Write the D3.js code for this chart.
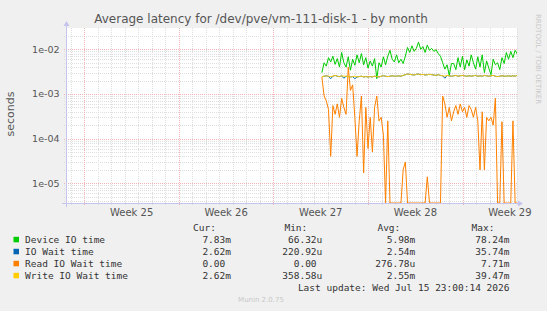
<!DOCTYPE html>
<html>
<head>
<meta charset="utf-8">
<script src="https://cdn.jsdelivr.net/npm/d3@7"></script>
<style>
  body { margin: 0; background: #f0f0f0; }
  svg { display: block; }
  text { font-family: "DejaVu Sans", sans-serif; }
  .mono { font-family: "DejaVu Sans Mono", monospace; }
</style>
</head>
<body>
<svg id="chart"></svg>
<script>
var svgWidth = 547;
var svgHeight = 311;
var plot = { left: 66, right: 517, top: 28, bottom: 203 };

// axis data
var weekStarts = ["2026-06-15", "2026-06-22", "2026-06-29", "2026-07-06", "2026-07-13"];
var weekLabels = ["Week 25", "Week 26", "Week 27", "Week 28", "Week 29"];
var yTicks = [1e-2, 1e-3, 1e-4, 1e-5];
var yTickLabels = ["1e-02", "1e-03", "1e-04", "1e-05"];

// samples (milliseconds), one every 3.9 hours from sampleStart
var sampleStart = "2026-07-02T14:00:00Z";
var sampleStepHours = 3.9;

var deviceIO = [
  3.0, 5.0, 4.2, 6.5, 5.2, 7.0, 4.6, 6.2, 4.0, 8.5,
  5.0, 4.0, 6.8, 3.4, 6.0, 4.4, 7.5, 5.0, 8.0, 4.5,
  6.5, 3.8, 5.5, 4.2, 6.2, 2.2, 5.0, 4.0, 6.8, 4.5,
  7.0, 9.5, 6.0, 5.2, 7.5, 5.0, 6.0, 4.8, 7.0, 11.0,
  8.5, 12.0, 9.0, 10.5, 14.5, 10.0, 11.5, 8.5, 12.5, 9.5,
  10.5, 9.0, 9.8, 8.0, 7.0, 5.0, 3.6, 4.5, 2.6, 4.8,
  4.8, 3.5, 6.5, 4.0, 7.0, 3.5, 5.8, 4.2, 7.5, 5.0,
  3.6, 6.8, 4.0, 7.5, 3.0, 5.5, 3.8, 2.7, 6.0, 4.5,
  5.0, 3.5, 6.5, 4.8, 8.5, 6.0, 9.0, 6.5, 9.5, 7.8
];
var ioWait = [
  2.45, 2.5, 2.55, 2.5, 2.2, 2.5, 2.6, 2.5, 2.45, 2.55,
  2.25, 2.5, 2.45, 2.4, 2.45, 2.2, 2.4, 2.45, 2.5, 2.4,
  2.45, 2.4, 2.45, 2.4, 2.5, 2.45, 2.4, 2.5, 2.55, 2.5,
  2.45, 2.5, 2.55, 2.5, 2.5, 2.55, 2.5, 2.6, 2.7, 2.8,
  2.75, 2.7, 2.65, 2.75, 2.8, 2.7, 2.75, 2.65, 2.7, 2.75,
  2.7, 2.65, 2.6, 2.7, 2.6, 2.55, 2.25, 2.6, 2.55, 2.5,
  2.55, 2.6, 2.5, 2.55, 2.6, 2.55, 2.5, 2.55, 2.5, 2.55,
  2.6, 2.5, 2.55, 2.5, 2.6, 2.55, 2.5, 2.55, 2.6, 2.5,
  2.45, 2.5, 2.55, 2.5, 2.5, 2.55, 2.5, 2.55, 2.5, 2.62
];
var readIO = [
  2.4, 0.9, 0.7, 0.45, 0.04, 0.55, 0.35, 0.6, 0.3, 0.8,
  0.5, 0.35, 4.0, 1.2, 1.6, 0.3, 0.04, 0.25, 0.9, 0.017,
  0.5, 0.06, 0.3, 0.05, 0.5, 0.9, 0.25, 0.3, 0.12, 0,
  0.25, 0, 0, 0, 0, 0, 0, 0.02, 0.03, 0,
  0, 0, 0, 0, 0, 0, 0, 0, 0.014, 0,
  0, 0, 0, 0, 0, 0.9, 0.6, 0.3, 0.5, 0.25,
  0.4, 0.55, 0.35, 0.6, 0.4, 0.5, 0.3, 0.55, 0.45, 0.3,
  0.5, 0.25, 0.02, 0.4, 0.02, 0.3, 0.25, 0.3, 0.2, 0.8,
  0, 0, 0.24, 0, 0, 0, 0, 0.25, 0, 0
];
var writeIO = [
  2.45, 2.5, 2.55, 2.5, 2.45, 2.5, 2.6, 2.5, 2.45, 2.55,
  2.5, 2.5, 2.45, 2.4, 2.45, 2.5, 2.4, 2.45, 2.5, 2.4,
  2.45, 2.4, 2.45, 2.4, 2.5, 2.45, 2.4, 2.5, 2.55, 2.5,
  2.45, 2.5, 2.55, 2.5, 2.5, 2.55, 2.5, 2.6, 2.7, 2.8,
  2.75, 2.7, 2.65, 2.75, 2.8, 2.7, 2.75, 2.65, 2.7, 2.75,
  2.7, 2.65, 2.6, 2.7, 2.6, 2.55, 2.5, 2.6, 2.55, 2.5,
  2.55, 2.6, 2.5, 2.55, 2.6, 2.55, 2.5, 2.55, 2.5, 2.55,
  2.6, 2.5, 2.55, 2.5, 2.6, 2.55, 2.5, 2.55, 2.6, 2.5,
  2.45, 2.5, 2.55, 2.5, 2.5, 2.55, 2.5, 2.55, 2.5, 2.62
];

// legend
var seriesNames = ["Device IO time", "IO Wait time", "Read IO Wait time", "Write IO Wait time"];
var curValues = ["7.83m", "2.62m", "0.00", "2.62m"];
var minValues = ["66.32u", "220.92u", "0.00", "358.58u"];
var avgValues = ["5.98m", "2.54m", "276.78u", "2.55m"];
var maxValues = ["78.24m", "35.74m", "7.71m", "39.47m"];
var seriesColors = ["#00cc00", "#0066b3", "#ff8000", "#ffcc00"];

var svg = d3.select("#chart")
  .attr("width", svgWidth)
  .attr("height", svgHeight);

svg.append("rect").attr("width", svgWidth).attr("height", svgHeight).attr("fill", "#f0f0f0");
svg.append("rect")
  .attr("x", plot.left).attr("y", plot.top)
  .attr("width", plot.right - plot.left).attr("height", plot.bottom - plot.top)
  .attr("fill", "#ffffff");

var x = d3.scaleUtc()
  .domain([new Date("2026-06-13T15:30:00Z"), new Date("2026-07-17T00:30:00Z")])
  .range([plot.left, plot.right]);

var y = d3.scaleLog()
  .domain([3.62e-6, 3.0e-2])
  .range([plot.bottom, plot.top])
  .clamp(true);

function px(v) { return Math.round(v) + 0.5; }

var grid = svg.append("g");
var minorColor = "#dedede";
var majorColor = "#efb4b4";

// minor horizontal grid (2..9 x decade)
var minorY = [];
d3.range(-6, -1).forEach(function(e) {
  d3.range(2, 10).forEach(function(k) {
    var v = k * Math.pow(10, e);
    if (v > y.domain()[0] && v < y.domain()[1]) minorY.push(v);
  });
});
grid.selectAll(".hminor").data(minorY).enter().append("line")
  .attr("x1", plot.left - 2).attr("x2", plot.right)
  .attr("y1", function(d) { return px(y(d)); })
  .attr("y2", function(d) { return px(y(d)); })
  .attr("stroke", minorColor).attr("stroke-dasharray", "1,1");

// minor vertical grid (days)
var days = d3.utcDay.range(x.domain()[0], x.domain()[1]).filter(function(d) { return d.getUTCDay() !== 1; });
grid.selectAll(".vminor").data(days).enter().append("line")
  .attr("x1", function(d) { return px(x(d)); })
  .attr("x2", function(d) { return px(x(d)); })
  .attr("y1", plot.top).attr("y2", plot.bottom + 2)
  .attr("stroke", minorColor).attr("stroke-dasharray", "1,1");

// major grid
grid.selectAll(".hmajor").data(yTicks).enter().append("line")
  .attr("x1", plot.left - 2).attr("x2", plot.right)
  .attr("y1", function(d) { return px(y(d)); })
  .attr("y2", function(d) { return px(y(d)); })
  .attr("stroke", majorColor).attr("stroke-dasharray", "1,1");

grid.selectAll(".vmajor").data(weekStarts).enter().append("line")
  .attr("x1", function(d) { return px(x(new Date(d + "T00:00:00Z"))); })
  .attr("x2", function(d) { return px(x(new Date(d + "T00:00:00Z"))); })
  .attr("y1", plot.top).attr("y2", plot.bottom + 3)
  .attr("stroke", majorColor).attr("stroke-dasharray", "1,1");

// data lines
svg.append("clipPath").attr("id", "clip").append("rect")
  .attr("x", plot.left).attr("y", plot.top - 1)
  .attr("width", plot.right - plot.left).attr("height", plot.bottom - plot.top + 1);

var t0 = new Date(sampleStart).getTime();
function sampleTime(i) { return new Date(t0 + i * sampleStepHours * 3600e3); }

var line = d3.line()
  .x(function(d, i) { return x(sampleTime(i)); })
  .y(function(d) { return y(Math.max(d / 1000, 1e-9)); });

var series = [deviceIO, ioWait, readIO, writeIO];
var lines = svg.append("g").attr("clip-path", "url(#clip)");
series.forEach(function(s, k) {
  lines.append("path")
    .datum(s)
    .attr("d", line)
    .attr("fill", "none")
    .attr("stroke", seriesColors[k])
    .attr("stroke-width", 1)
    .attr("stroke-linejoin", "round");
});

// axes
var axisColor = "#c4c4ee";
svg.append("line")
  .attr("x1", plot.left - 4).attr("x2", plot.right + 2)
  .attr("y1", plot.bottom + 0.5).attr("y2", plot.bottom + 0.5)
  .attr("stroke", axisColor);
svg.append("path")
  .attr("d", "M" + (plot.right + 1) + "," + (plot.bottom - 2.5) + "L" + (plot.right + 6) + "," + (plot.bottom + 0.5) + "L" + (plot.right + 1) + "," + (plot.bottom + 3.5) + "Z")
  .attr("fill", axisColor);
svg.append("line")
  .attr("x1", plot.left + 0.5).attr("x2", plot.left + 0.5)
  .attr("y1", plot.bottom + 4).attr("y2", plot.top - 3)
  .attr("stroke", axisColor);
svg.append("path")
  .attr("d", "M" + (plot.left - 2.5) + "," + (plot.top - 2) + "L" + (plot.left + 0.5) + "," + (plot.top - 7) + "L" + (plot.left + 3.5) + "," + (plot.top - 2) + "Z")
  .attr("fill", axisColor);

// tick labels
svg.selectAll(".ylab").data(yTicks).enter().append("text")
  .attr("x", 59.5)
  .attr("y", function(d) { return y(d); })
  .attr("dy", "0.35em")
  .attr("text-anchor", "end")
  .attr("font-size", "9.5px")
  .attr("fill", "#555")
  .text(function(d, i) { return yTickLabels[i]; });

svg.selectAll(".xlab").data(weekStarts).enter().append("text")
  .attr("x", function(d) { return x(d3.utcHour.offset(new Date(d + "T00:00:00Z"), 84)); })
  .attr("y", 216)
  .attr("text-anchor", "middle")
  .attr("font-size", "10px")
  .attr("fill", "#555")
  .text(function(d, i) { return weekLabels[i]; });

// title and side texts
svg.append("text")
  .attr("x", 261).attr("y", 22.5)
  .attr("text-anchor", "middle")
  .attr("font-size", "12px")
  .attr("fill", "#555")
  .text("Average latency for /dev/pve/vm-111-disk-1 - by month");

svg.append("text")
  .attr("transform", "translate(14,114) rotate(-90)")
  .attr("text-anchor", "middle")
  .attr("font-size", "11px")
  .attr("fill", "#555")
  .text("seconds");

svg.append("text")
  .attr("transform", "translate(535.5,14) rotate(90)")
  .attr("text-anchor", "start")
  .attr("font-size", "7px")
  .attr("fill", "#c8c8c8")
  .text("RRDTOOL / TOBI OETIKER");

// legend
var legend = svg.append("g").attr("class", "mono").attr("font-size", "9.5px").attr("fill", "#333");
var headers = ["Cur:", "Min:", "Avg:", "Max:"];
var colEnds = [231, 322.3, 415.3, 509.5];
headers.forEach(function(h, c) {
  legend.append("text").attr("class", "mono")
    .attr("x", colEnds[c] - 15).attr("y", 231)
    .attr("text-anchor", "end").text(h);
});

var columns = [curValues, minValues, avgValues, maxValues];
seriesNames.forEach(function(name, r) {
  var yy = 242.8 + r * 12;
  legend.append("rect")
    .attr("x", 13.5).attr("y", yy - 6)
    .attr("width", 5.5).attr("height", 5.5)
    .attr("fill", seriesColors[r]);
  legend.append("text").attr("class", "mono")
    .attr("x", 25).attr("y", yy).text(name);
  columns.forEach(function(col, c) {
    var v = col[r];
    if (!/[a-zA-Z]$/.test(v)) v = v + "\u00a0";
    legend.append("text").attr("class", "mono")
      .attr("x", colEnds[c]).attr("y", yy)
      .attr("text-anchor", "end").text(v);
  });
});

legend.append("text").attr("class", "mono")
  .attr("x", 509.5).attr("y", 290.8)
  .attr("text-anchor", "end")
  .text("Last update: Wed Jul 15 23:00:14 2026");

svg.append("text")
  .attr("x", 261).attr("y", 302)
  .attr("text-anchor", "middle")
  .attr("font-size", "7px")
  .attr("fill", "#c8c8c8")
  .text("Munin 2.0.75");
</script>
</body>
</html>
